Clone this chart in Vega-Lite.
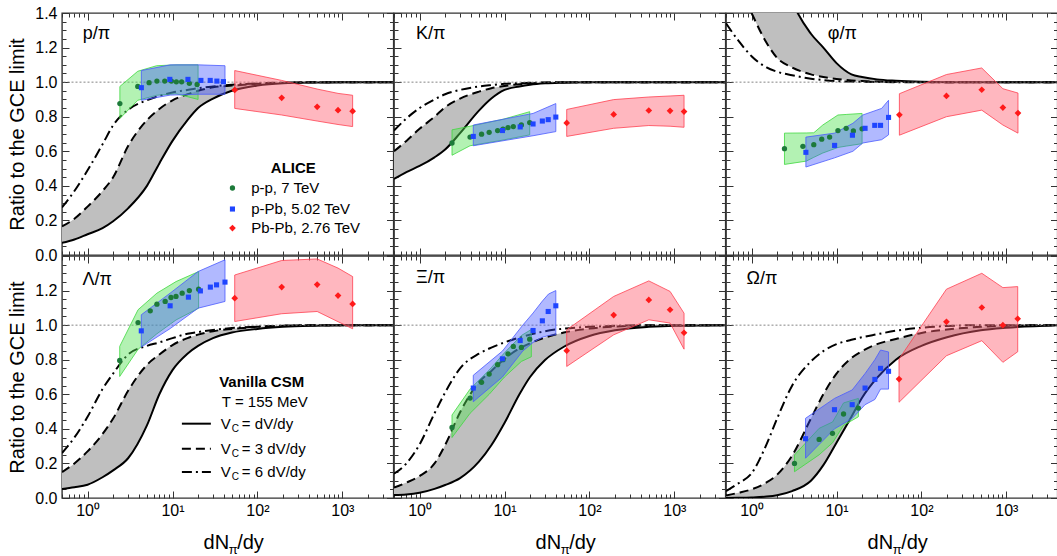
{
"$schema":"https://vega.github.io/schema/vega-lite/v6.json",
"background":"white",
"padding":{"left":7,"top":4,"right":0,"bottom":0},
"autosize":{"type":"pad"},
"config":{"view":{"stroke":"#333","strokeWidth":1.4},
"axis":{"domain":false,"grid":false,"tickColor":"#333","tickWidth":1,"labelFont":"Liberation Sans","labelFontSize":16,"labelColor":"black","titleFont":"Liberation Sans","titleFontSize":20,"titleFontWeight":"normal","titleColor":"black"},
"text":{"font":"Liberation Sans","color":"black"}},
"data":{"name":"all"},
"datasets":{"all":[
{"p":"p","k":"c","x":0.5,"s":0.07,"ds":0.165,"dd":0.275},{"p":"p","k":"c","x":0.7,"s":0.09,"ds":0.21,"dd":0.37},{"p":"p","k":"c","x":1,"s":0.12,"ds":0.28,"dd":0.49},{"p":"p","k":"c","x":1.5,"s":0.155,"ds":0.37,"dd":0.64},{"p":"p","k":"c","x":2,"s":0.195,"ds":0.45,"dd":0.75},{"p":"p","k":"c","x":3,"s":0.27,"ds":0.63,"dd":0.84},{"p":"p","k":"c","x":5,"s":0.4,"ds":0.78,"dd":0.895},{"p":"p","k":"c","x":7,"s":0.53,"ds":0.845,"dd":0.92},{"p":"p","k":"c","x":10,"s":0.66,"ds":0.895,"dd":0.94},{"p":"p","k":"c","x":15,"s":0.78,"ds":0.93,"dd":0.955},{"p":"p","k":"c","x":20,"s":0.85,"ds":0.95,"dd":0.965},{"p":"p","k":"c","x":30,"s":0.905,"ds":0.97,"dd":0.975},{"p":"p","k":"c","x":50,"s":0.95,"ds":0.98,"dd":0.985},{"p":"p","k":"c","x":100,"s":0.98,"ds":0.99,"dd":0.993},{"p":"p","k":"c","x":200,"s":0.993,"ds":0.996,"dd":0.997},{"p":"p","k":"c","x":500,"s":0.998,"ds":1,"dd":1},{"p":"p","k":"c","x":1000,"s":1,"ds":1,"dd":1},{"p":"p","k":"c","x":4000,"s":1,"ds":1,"dd":1},
{"p":"K","k":"c","x":0.5,"s":0.44,"ds":0.6,"dd":0.72},{"p":"K","k":"c","x":0.7,"s":0.48,"ds":0.66,"dd":0.79},{"p":"K","k":"c","x":1,"s":0.515,"ds":0.73,"dd":0.85},{"p":"K","k":"c","x":1.5,"s":0.565,"ds":0.8,"dd":0.9},{"p":"K","k":"c","x":2,"s":0.61,"ds":0.855,"dd":0.93},{"p":"K","k":"c","x":3,"s":0.705,"ds":0.905,"dd":0.955},{"p":"K","k":"c","x":5,"s":0.835,"ds":0.945,"dd":0.975},{"p":"K","k":"c","x":7,"s":0.905,"ds":0.965,"dd":0.983},{"p":"K","k":"c","x":10,"s":0.955,"ds":0.978,"dd":0.99},{"p":"K","k":"c","x":15,"s":0.975,"ds":0.988,"dd":0.994},{"p":"K","k":"c","x":20,"s":0.985,"ds":0.993,"dd":0.996},{"p":"K","k":"c","x":30,"s":0.993,"ds":0.997,"dd":0.998},{"p":"K","k":"c","x":50,"s":0.997,"ds":1,"dd":1},{"p":"K","k":"c","x":100,"s":1,"ds":1,"dd":1},{"p":"K","k":"c","x":1000,"s":1,"ds":1,"dd":1},{"p":"K","k":"c","x":4000,"s":1,"ds":1,"dd":1},
{"p":"phi","k":"c","x":0.5,"s":null,"ds":null,"dd":1.34},{"p":"phi","k":"c","x":0.7,"s":null,"ds":null,"dd":1.24},{"p":"phi","k":"c","x":1,"s":2.5,"ds":1.4,"dd":1.15},{"p":"phi","k":"c","x":1.5,"s":2.0,"ds":1.228,"dd":1.085},{"p":"phi","k":"c","x":2,"s":1.75,"ds":1.14,"dd":1.06},{"p":"phi","k":"c","x":3,"s":1.47,"ds":1.085,"dd":1.04},{"p":"phi","k":"c","x":5,"s":1.28,"ds":1.045,"dd":1.02},{"p":"phi","k":"c","x":7,"s":1.2,"ds":1.03,"dd":1.012},{"p":"phi","k":"c","x":10,"s":1.11,"ds":1.018,"dd":1.006},{"p":"phi","k":"c","x":15,"s":1.045,"ds":1.01,"dd":1.003},{"p":"phi","k":"c","x":20,"s":1.03,"ds":1.006,"dd":1.002},{"p":"phi","k":"c","x":30,"s":1.016,"ds":1.003,"dd":1.001},{"p":"phi","k":"c","x":50,"s":1.008,"ds":1.001,"dd":1},{"p":"phi","k":"c","x":100,"s":1.002,"ds":1,"dd":1},{"p":"phi","k":"c","x":200,"s":1,"ds":1,"dd":1},{"p":"phi","k":"c","x":4000,"s":1,"ds":1,"dd":1},
{"p":"L","k":"c","x":0.5,"s":0.052,"ds":0.15,"dd":0.26},{"p":"L","k":"c","x":0.7,"s":0.062,"ds":0.2,"dd":0.35},{"p":"L","k":"c","x":1,"s":0.077,"ds":0.27,"dd":0.47},{"p":"L","k":"c","x":1.5,"s":0.12,"ds":0.37,"dd":0.63},{"p":"L","k":"c","x":2,"s":0.16,"ds":0.46,"dd":0.72},{"p":"L","k":"c","x":3,"s":0.23,"ds":0.62,"dd":0.83},{"p":"L","k":"c","x":5,"s":0.42,"ds":0.77,"dd":0.88},{"p":"L","k":"c","x":7,"s":0.6,"ds":0.83,"dd":0.9},{"p":"L","k":"c","x":10,"s":0.74,"ds":0.885,"dd":0.925},{"p":"L","k":"c","x":15,"s":0.835,"ds":0.925,"dd":0.95},{"p":"L","k":"c","x":20,"s":0.88,"ds":0.945,"dd":0.96},{"p":"L","k":"c","x":30,"s":0.925,"ds":0.965,"dd":0.972},{"p":"L","k":"c","x":50,"s":0.957,"ds":0.978,"dd":0.983},{"p":"L","k":"c","x":100,"s":0.978,"ds":0.99,"dd":0.992},{"p":"L","k":"c","x":200,"s":0.99,"ds":0.996,"dd":0.997},{"p":"L","k":"c","x":500,"s":0.997,"ds":1,"dd":1},{"p":"L","k":"c","x":1000,"s":1,"ds":1,"dd":1},{"p":"L","k":"c","x":4000,"s":1,"ds":1,"dd":1},
{"p":"Xi","k":"c","x":0.5,"s":0.017,"ds":0.06,"dd":0.14},{"p":"Xi","k":"c","x":0.7,"s":0.02,"ds":0.089,"dd":0.2},{"p":"Xi","k":"c","x":1,"s":0.03,"ds":0.127,"dd":0.31},{"p":"Xi","k":"c","x":1.5,"s":0.053,"ds":0.2,"dd":0.49},{"p":"Xi","k":"c","x":2,"s":0.075,"ds":0.307,"dd":0.61},{"p":"Xi","k":"c","x":3,"s":0.115,"ds":0.496,"dd":0.75},{"p":"Xi","k":"c","x":5,"s":0.21,"ds":0.67,"dd":0.835},{"p":"Xi","k":"c","x":7,"s":0.305,"ds":0.735,"dd":0.87},{"p":"Xi","k":"c","x":10,"s":0.434,"ds":0.805,"dd":0.9},{"p":"Xi","k":"c","x":15,"s":0.6,"ds":0.865,"dd":0.928},{"p":"Xi","k":"c","x":20,"s":0.7,"ds":0.895,"dd":0.945},{"p":"Xi","k":"c","x":30,"s":0.798,"ds":0.928,"dd":0.965},{"p":"Xi","k":"c","x":50,"s":0.875,"ds":0.957,"dd":0.98},{"p":"Xi","k":"c","x":100,"s":0.937,"ds":0.98,"dd":0.99},{"p":"Xi","k":"c","x":200,"s":0.97,"ds":0.992,"dd":0.996},{"p":"Xi","k":"c","x":500,"s":0.99,"ds":0.998,"dd":1},{"p":"Xi","k":"c","x":1000,"s":0.997,"ds":1,"dd":1},{"p":"Xi","k":"c","x":4000,"s":1,"ds":1,"dd":1},
{"p":"Om","k":"c","x":0.5,"s":0,"ds":0.015,"dd":0.04},{"p":"Om","k":"c","x":0.7,"s":0.001,"ds":0.03,"dd":0.085},{"p":"Om","k":"c","x":1,"s":0.003,"ds":0.05,"dd":0.143},{"p":"Om","k":"c","x":1.5,"s":0.008,"ds":0.09,"dd":0.31},{"p":"Om","k":"c","x":2,"s":0.016,"ds":0.135,"dd":0.46},{"p":"Om","k":"c","x":3,"s":0.04,"ds":0.245,"dd":0.65},{"p":"Om","k":"c","x":5,"s":0.1,"ds":0.46,"dd":0.79},{"p":"Om","k":"c","x":7,"s":0.19,"ds":0.6,"dd":0.85},{"p":"Om","k":"c","x":10,"s":0.32,"ds":0.72,"dd":0.89},{"p":"Om","k":"c","x":15,"s":0.47,"ds":0.81,"dd":0.915},{"p":"Om","k":"c","x":20,"s":0.58,"ds":0.85,"dd":0.93},{"p":"Om","k":"c","x":30,"s":0.695,"ds":0.89,"dd":0.947},{"p":"Om","k":"c","x":50,"s":0.8,"ds":0.92,"dd":0.968},{"p":"Om","k":"c","x":100,"s":0.88,"ds":0.955,"dd":0.985},{"p":"Om","k":"c","x":200,"s":0.93,"ds":0.975,"dd":0.995},{"p":"Om","k":"c","x":500,"s":0.97,"ds":0.99,"dd":1},{"p":"Om","k":"c","x":1000,"s":0.985,"ds":0.997,"dd":1},{"p":"Om","k":"c","x":4000,"s":1,"ds":1,"dd":1},
{"p":"p","k":"pp","x":2.4,"v":0.876},{"p":"p","k":"pp","x":3.9,"v":0.975},{"p":"p","k":"pp","x":5.3,"v":0.997},{"p":"p","k":"pp","x":6.55,"v":1.006},{"p":"p","k":"pp","x":8.1,"v":1.006},{"p":"p","k":"pp","x":9.7,"v":1.006},{"p":"p","k":"pp","x":11.1,"v":1.002},{"p":"p","k":"pp","x":12.8,"v":1.002},{"p":"p","k":"pp","x":15.8,"v":0.993},{"p":"p","k":"pp","x":19.5,"v":0.987},
{"p":"p","k":"pPb","x":4.3,"v":0.968},{"p":"p","k":"pPb","x":9.3,"v":1.016},{"p":"p","k":"pPb","x":15.2,"v":1.016},{"p":"p","k":"pPb","x":21.6,"v":1.01},{"p":"p","k":"pPb","x":27.8,"v":1.01},{"p":"p","k":"pPb","x":33.3,"v":1.006},{"p":"p","k":"pPb","x":39.8,"v":1.003},
{"p":"p","k":"PbPb","x":54,"v":0.955},{"p":"p","k":"PbPb","x":193,"v":0.909},{"p":"p","k":"PbPb","x":505,"v":0.857},{"p":"p","k":"PbPb","x":889,"v":0.838},{"p":"p","k":"PbPb","x":1321,"v":0.832},
{"p":"K","k":"pp","x":2.41,"v":0.648},{"p":"K","k":"pp","x":3.93,"v":0.682},{"p":"K","k":"pp","x":5.37,"v":0.699},{"p":"K","k":"pp","x":6.6,"v":0.71},{"p":"K","k":"pp","x":8.3,"v":0.72},{"p":"K","k":"pp","x":9.6,"v":0.728},{"p":"K","k":"pp","x":11,"v":0.737},{"p":"K","k":"pp","x":12.7,"v":0.743},{"p":"K","k":"pp","x":15.8,"v":0.752},{"p":"K","k":"pp","x":19.8,"v":0.766},
{"p":"K","k":"pPb","x":4.29,"v":0.686},{"p":"K","k":"pPb","x":9.45,"v":0.72},{"p":"K","k":"pPb","x":15.3,"v":0.741},{"p":"K","k":"pPb","x":21.7,"v":0.758},{"p":"K","k":"pPb","x":27.9,"v":0.775},{"p":"K","k":"pPb","x":32.7,"v":0.783},{"p":"K","k":"pPb","x":40.2,"v":0.798},
{"p":"K","k":"PbPb","x":54,"v":0.764},{"p":"K","k":"PbPb","x":193,"v":0.813},{"p":"K","k":"PbPb","x":500,"v":0.836},{"p":"K","k":"PbPb","x":890,"v":0.834},{"p":"K","k":"PbPb","x":1300,"v":0.83},
{"p":"phi","k":"pp","x":2.44,"v":0.615},{"p":"phi","k":"pp","x":4.02,"v":0.629},{"p":"phi","k":"pp","x":5.4,"v":0.638},{"p":"phi","k":"pp","x":6.7,"v":0.67},{"p":"phi","k":"pp","x":8.3,"v":0.682},{"p":"phi","k":"pp","x":10.4,"v":0.72},{"p":"phi","k":"pp","x":13,"v":0.733},{"p":"phi","k":"pp","x":15.8,"v":0.718},{"p":"phi","k":"pp","x":20,"v":0.73},
{"p":"phi","k":"pPb","x":4.36,"v":0.594},{"p":"phi","k":"pPb","x":9.5,"v":0.634},{"p":"phi","k":"pPb","x":15.4,"v":0.693},{"p":"phi","k":"pPb","x":21.7,"v":0.733},{"p":"phi","k":"pPb","x":28.2,"v":0.75},{"p":"phi","k":"pPb","x":33,"v":0.75},{"p":"phi","k":"pPb","x":41,"v":0.796},
{"p":"phi","k":"PbPb","x":55,"v":0.811},{"p":"phi","k":"PbPb","x":197,"v":0.92},{"p":"phi","k":"PbPb","x":513,"v":0.956},{"p":"phi","k":"PbPb","x":910,"v":0.853},{"p":"phi","k":"PbPb","x":1370,"v":0.821},
{"p":"L","k":"pp","x":2.39,"v":0.796},{"p":"L","k":"pp","x":3.93,"v":1.015},{"p":"L","k":"pp","x":5.47,"v":1.083},{"p":"L","k":"pp","x":6.55,"v":1.121},{"p":"L","k":"pp","x":8.2,"v":1.137},{"p":"L","k":"pp","x":9.6,"v":1.16},{"p":"L","k":"pp","x":11,"v":1.166},{"p":"L","k":"pp","x":13,"v":1.185},{"p":"L","k":"pp","x":15.8,"v":1.2},{"p":"L","k":"pp","x":20.3,"v":1.208},
{"p":"L","k":"pPb","x":4.29,"v":0.967},{"p":"L","k":"pPb","x":9.38,"v":1.112},{"p":"L","k":"pPb","x":15.4,"v":1.162},{"p":"L","k":"pPb","x":21.3,"v":1.198},{"p":"L","k":"pPb","x":27.9,"v":1.22},{"p":"L","k":"pPb","x":33,"v":1.233},{"p":"L","k":"pPb","x":41.5,"v":1.249},
{"p":"L","k":"PbPb","x":54,"v":1.156},{"p":"L","k":"PbPb","x":193,"v":1.22},{"p":"L","k":"PbPb","x":505,"v":1.235},{"p":"L","k":"PbPb","x":889,"v":1.171},{"p":"L","k":"PbPb","x":1321,"v":1.123},
{"p":"Xi","k":"pp","x":2.41,"v":0.408},{"p":"Xi","k":"pp","x":3.93,"v":0.578},{"p":"Xi","k":"pp","x":5.37,"v":0.669},{"p":"Xi","k":"pp","x":6.6,"v":0.717},{"p":"Xi","k":"pp","x":8.3,"v":0.771},{"p":"Xi","k":"pp","x":9.6,"v":0.8},{"p":"Xi","k":"pp","x":11,"v":0.834},{"p":"Xi","k":"pp","x":12.7,"v":0.877},{"p":"Xi","k":"pp","x":15.8,"v":0.871},{"p":"Xi","k":"pp","x":19.8,"v":0.919},
{"p":"Xi","k":"pPb","x":4.29,"v":0.636},{"p":"Xi","k":"pPb","x":9.45,"v":0.805},{"p":"Xi","k":"pPb","x":15.3,"v":0.911},{"p":"Xi","k":"pPb","x":21.7,"v":0.969},{"p":"Xi","k":"pPb","x":27.9,"v":1.025},{"p":"Xi","k":"pPb","x":32.7,"v":1.079},{"p":"Xi","k":"pPb","x":40.2,"v":1.112},
{"p":"Xi","k":"PbPb","x":54,"v":0.852},{"p":"Xi","k":"PbPb","x":193,"v":1.058},{"p":"Xi","k":"PbPb","x":500,"v":1.146},{"p":"Xi","k":"PbPb","x":890,"v":1.089},{"p":"Xi","k":"PbPb","x":1300,"v":0.956},
{"p":"Om","k":"pp","x":3.2,"v":0.2},{"p":"Om","k":"pp","x":6.25,"v":0.339},{"p":"Om","k":"pp","x":8.97,"v":0.374},{"p":"Om","k":"pp","x":12.1,"v":0.486},{"p":"Om","k":"pp","x":18.1,"v":0.52},
{"p":"Om","k":"pPb","x":4.32,"v":0.343},{"p":"Om","k":"pPb","x":9.47,"v":0.511},{"p":"Om","k":"pPb","x":15.3,"v":0.54},{"p":"Om","k":"pPb","x":21.7,"v":0.636},{"p":"Om","k":"pPb","x":28.3,"v":0.686},{"p":"Om","k":"pPb","x":33,"v":0.75},{"p":"Om","k":"pPb","x":41,"v":0.733},
{"p":"Om","k":"PbPb","x":54.5,"v":0.688},{"p":"Om","k":"PbPb","x":197,"v":1.019},{"p":"Om","k":"PbPb","x":514,"v":1.102},{"p":"Om","k":"PbPb","x":910,"v":1.0},{"p":"Om","k":"PbPb","x":1360,"v":1.037},
{"p":"p","k":"bpp","x":2.4,"lo":0.79,"hi":0.975},{"p":"p","k":"bpp","x":3.9,"lo":0.895,"hi":1.063},{"p":"p","k":"bpp","x":6.5,"lo":0.924,"hi":1.095},{"p":"p","k":"bpp","x":11,"lo":0.933,"hi":1.1},{"p":"p","k":"bpp","x":20,"lo":0.9,"hi":1.1},
{"p":"p","k":"bpPb","x":4.3,"lo":0.895,"hi":1.067},{"p":"p","k":"bpPb","x":9.4,"lo":0.925,"hi":1.1},{"p":"p","k":"bpPb","x":20,"lo":0.93,"hi":1.1},{"p":"p","k":"bpPb","x":41.5,"lo":0.93,"hi":1.095},
{"p":"p","k":"bPbPb","x":54,"lo":0.848,"hi":1.067},{"p":"p","k":"bPbPb","x":193,"lo":0.81,"hi":1.01},{"p":"p","k":"bPbPb","x":505,"lo":0.775,"hi":0.96},{"p":"p","k":"bPbPb","x":889,"lo":0.755,"hi":0.935},{"p":"p","k":"bPbPb","x":1321,"lo":0.743,"hi":0.924},
{"p":"K","k":"bpp","x":2.41,"lo":0.577,"hi":0.724},{"p":"K","k":"bpp","x":3.93,"lo":0.632,"hi":0.745},{"p":"K","k":"bpp","x":9.6,"lo":0.665,"hi":0.785},{"p":"K","k":"bpp","x":19.8,"lo":0.695,"hi":0.829},
{"p":"K","k":"bpPb","x":4.29,"lo":0.632,"hi":0.752},{"p":"K","k":"bpPb","x":21.7,"lo":0.69,"hi":0.819},{"p":"K","k":"bpPb","x":40.2,"lo":0.714,"hi":0.876},
{"p":"K","k":"bPbPb","x":54,"lo":0.686,"hi":0.842},{"p":"K","k":"bPbPb","x":193,"lo":0.733,"hi":0.899},{"p":"K","k":"bPbPb","x":500,"lo":0.749,"hi":0.914},{"p":"K","k":"bPbPb","x":890,"lo":0.745,"hi":0.92},{"p":"K","k":"bPbPb","x":1300,"lo":0.739,"hi":0.924},
{"p":"phi","k":"bpp","x":2.44,"lo":0.524,"hi":0.705},{"p":"phi","k":"bpp","x":4.4,"lo":0.543,"hi":0.706},{"p":"phi","k":"bpp","x":5.4,"lo":0.565,"hi":0.707},{"p":"phi","k":"bpp","x":6.9,"lo":0.59,"hi":0.752},{"p":"phi","k":"bpp","x":10.4,"lo":0.622,"hi":0.81},{"p":"phi","k":"bpp","x":13,"lo":0.63,"hi":0.813},{"p":"phi","k":"bpp","x":20,"lo":0.644,"hi":0.819},
{"p":"phi","k":"bpPb","x":4.36,"lo":0.509,"hi":0.682},{"p":"phi","k":"bpPb","x":9.5,"lo":0.562,"hi":0.705},{"p":"phi","k":"bpPb","x":15.6,"lo":0.6,"hi":0.762},{"p":"phi","k":"bpPb","x":20.4,"lo":0.648,"hi":0.81},{"p":"phi","k":"bpPb","x":34,"lo":0.667,"hi":0.848},{"p":"phi","k":"bpPb","x":41,"lo":0.695,"hi":0.895},
{"p":"phi","k":"bPbPb","x":55,"lo":0.693,"hi":0.933},{"p":"phi","k":"bPbPb","x":197,"lo":0.8,"hi":1.044},{"p":"phi","k":"bPbPb","x":513,"lo":0.838,"hi":1.082},{"p":"phi","k":"bPbPb","x":910,"lo":0.752,"hi":0.962},{"p":"phi","k":"bPbPb","x":1370,"lo":0.705,"hi":0.937},
{"p":"L","k":"bpp","x":2.39,"lo":0.703,"hi":0.877},{"p":"L","k":"bpp","x":3.93,"lo":0.86,"hi":1.089},{"p":"L","k":"bpp","x":6.55,"lo":0.95,"hi":1.185},{"p":"L","k":"bpp","x":11,"lo":1.03,"hi":1.252},{"p":"L","k":"bpp","x":20.3,"lo":1.098,"hi":1.31},
{"p":"L","k":"bpPb","x":4.29,"lo":0.873,"hi":1.06},{"p":"L","k":"bpPb","x":9.38,"lo":0.98,"hi":1.185},{"p":"L","k":"bpPb","x":20,"lo":1.098,"hi":1.31},{"p":"L","k":"bpPb","x":41.5,"lo":1.137,"hi":1.378},
{"p":"L","k":"bPbPb","x":54,"lo":1.021,"hi":1.29},{"p":"L","k":"bPbPb","x":193,"lo":1.066,"hi":1.374},{"p":"L","k":"bPbPb","x":505,"lo":1.079,"hi":1.383},{"p":"L","k":"bPbPb","x":889,"lo":1.02,"hi":1.33},{"p":"L","k":"bPbPb","x":1321,"lo":0.979,"hi":1.281},
{"p":"Xi","k":"bpp","x":2.41,"lo":0.35,"hi":0.48},{"p":"Xi","k":"bpp","x":3.93,"lo":0.49,"hi":0.63},{"p":"Xi","k":"bpp","x":6.6,"lo":0.6,"hi":0.74},{"p":"Xi","k":"bpp","x":10,"lo":0.7,"hi":0.84},{"p":"Xi","k":"bpp","x":15.8,"lo":0.79,"hi":0.94},{"p":"Xi","k":"bpp","x":20.7,"lo":0.817,"hi":0.975},
{"p":"Xi","k":"bpPb","x":4.29,"lo":0.557,"hi":0.71},{"p":"Xi","k":"bpPb","x":9.45,"lo":0.7,"hi":0.85},{"p":"Xi","k":"bpPb","x":16.4,"lo":0.85,"hi":1.0},{"p":"Xi","k":"bpPb","x":21.7,"lo":0.9,"hi":1.07},{"p":"Xi","k":"bpPb","x":28,"lo":0.93,"hi":1.14},{"p":"Xi","k":"bpPb","x":33,"lo":0.94,"hi":1.18},{"p":"Xi","k":"bpPb","x":40.2,"lo":0.944,"hi":1.2},
{"p":"Xi","k":"bPbPb","x":54,"lo":0.761,"hi":0.973},{"p":"Xi","k":"bPbPb","x":193,"lo":0.944,"hi":1.166},{"p":"Xi","k":"bPbPb","x":500,"lo":1.031,"hi":1.256},{"p":"Xi","k":"bPbPb","x":890,"lo":1.012,"hi":1.195},{"p":"Xi","k":"bPbPb","x":1300,"lo":0.861,"hi":1.069},
{"p":"Om","k":"bpp","x":3.2,"lo":0.152,"hi":0.249},{"p":"Om","k":"bpp","x":6.25,"lo":0.25,"hi":0.403},{"p":"Om","k":"bpp","x":9,"lo":0.32,"hi":0.44},{"p":"Om","k":"bpp","x":12.1,"lo":0.42,"hi":0.55},{"p":"Om","k":"bpp","x":18.1,"lo":0.47,"hi":0.576},
{"p":"Om","k":"bpPb","x":4.32,"lo":0.23,"hi":0.461},{"p":"Om","k":"bpPb","x":9.47,"lo":0.4,"hi":0.576},{"p":"Om","k":"bpPb","x":15.3,"lo":0.46,"hi":0.625},{"p":"Om","k":"bpPb","x":21.7,"lo":0.54,"hi":0.72},{"p":"Om","k":"bpPb","x":28.3,"lo":0.57,"hi":0.8},{"p":"Om","k":"bpPb","x":33,"lo":0.63,"hi":0.856},{"p":"Om","k":"bpPb","x":41,"lo":0.63,"hi":0.845},
{"p":"Om","k":"bPbPb","x":54.5,"lo":0.554,"hi":0.804},{"p":"Om","k":"bPbPb","x":197,"lo":0.823,"hi":1.208},{"p":"Om","k":"bPbPb","x":514,"lo":0.91,"hi":1.3},{"p":"Om","k":"bPbPb","x":910,"lo":0.785,"hi":1.217},{"p":"Om","k":"bPbPb","x":1360,"lo":0.846,"hi":1.223}
]},
"columns":3,
"spacing":{"row":1,"column":0},
"bounds":"flush",
"concat":[
{"width":331.5,"height":242,"resolve":{"axis":{"x":"independent","y":"independent"}},"layer":[
{"transform":[{"filter":"datum.p=='p'&&datum.k=='c'"}],"mark":{"type":"area","color":"#bfbfbf","interpolate":"monotone","clip":true},"encoding":{"x":{"field":"x","type":"quantitative","scale":{"type":"log","domain":[0.5,4000],"nice":false},"axis":{"orient":"bottom","values":[0.5,0.6,0.7,0.8,0.9,1,2,3,4,5,6,7,8,9,10,20,30,40,50,60,70,80,90,100,200,300,400,500,600,700,800,900,1000,2000,3000,4000],"labels":false,"title":null,"tickSize":{"condition":{"test":"datum.value==1||datum.value==10||datum.value==100||datum.value==1000","value":-7},"value":-4}}},"y":{"field":"s","type":"quantitative","scale":{"domain":[0,1.4],"nice":false,"zero":false},"axis":{"orient":"left","values":[0,0.05,0.1,0.15,0.2,0.25,0.3,0.35,0.4,0.45,0.5,0.55,0.6,0.65,0.7,0.75,0.8,0.85,0.9,0.95,1,1.05,1.1,1.15,1.2,1.25,1.3,1.35,1.4],"title":"Ratio to the GCE limit","titlePadding":7,"labelPadding":12,"labelOverlap":false,"labelFlush":false,"labelExpr":"abs(datum.value*5-round(datum.value*5))<0.001?format(datum.value,'.1f'):''","tickSize":{"condition":{"test":"abs(datum.value*5-round(datum.value*5))<0.001","value":-7},"value":-4}}},"y2":{"field":"ds"}}},
{"transform":[{"filter":"datum.p=='p'&&datum.k=='c'"}],"mark":{"type":"line","color":"black","strokeWidth":2,"interpolate":"monotone","clip":true},"encoding":{"x":{"field":"x","type":"quantitative","scale":{"type":"log","domain":[0.5,4000],"nice":false},"axis":{"orient":"top","values":[0.5,0.6,0.7,0.8,0.9,1,2,3,4,5,6,7,8,9,10,20,30,40,50,60,70,80,90,100,200,300,400,500,600,700,800,900,1000,2000,3000,4000],"labels":false,"title":null,"tickSize":{"condition":{"test":"datum.value==1||datum.value==10||datum.value==100||datum.value==1000","value":-7},"value":-4}}},"y":{"field":"s","type":"quantitative","scale":{"domain":[0,1.4],"nice":false,"zero":false},"axis":{"orient":"right","values":[0,0.05,0.1,0.15,0.2,0.25,0.3,0.35,0.4,0.45,0.5,0.55,0.6,0.65,0.7,0.75,0.8,0.85,0.9,0.95,1,1.05,1.1,1.15,1.2,1.25,1.3,1.35,1.4],"labels":false,"title":null,"tickSize":{"condition":{"test":"abs(datum.value*5-round(datum.value*5))<0.001","value":-7},"value":-4}}}}},
{"transform":[{"filter":"datum.p=='p'&&datum.k=='c'"}],"mark":{"type":"line","color":"black","strokeWidth":2,"strokeDash":[9,5],"interpolate":"monotone","clip":true},"encoding":{"x":{"field":"x","type":"quantitative","scale":{"type":"log","domain":[0.5,4000],"nice":false},"axis":null},"y":{"field":"ds","type":"quantitative","scale":{"domain":[0,1.4],"nice":false,"zero":false},"axis":null}}},
{"transform":[{"filter":"datum.p=='p'&&datum.k=='c'"}],"mark":{"type":"line","color":"black","strokeWidth":2,"strokeDash":[10,4,2,4],"interpolate":"monotone","clip":true},"encoding":{"x":{"field":"x","type":"quantitative","scale":{"type":"log","domain":[0.5,4000],"nice":false},"axis":null},"y":{"field":"dd","type":"quantitative","scale":{"domain":[0,1.4],"nice":false,"zero":false},"axis":null}}},
{"data":{"values":[{}]},"mark":{"type":"rule","color":"#777","strokeWidth":0.9,"strokeDash":[2,2]},"encoding":{"y":{"datum":1,"type":"quantitative","scale":{"domain":[0,1.4],"nice":false,"zero":false},"axis":null}}},
{"transform":[{"filter":"datum.p=='p'&&datum.k=='bpp'"}],"mark":{"type":"area","color":"#57e357","fillOpacity":0.45,"stroke":"#3fd83f","strokeWidth":0.8,"clip":true},"encoding":{"x":{"field":"x","type":"quantitative","scale":{"type":"log","domain":[0.5,4000],"nice":false},"axis":null},"y":{"field":"lo","type":"quantitative","scale":{"domain":[0,1.4],"nice":false,"zero":false},"axis":null},"y2":{"field":"hi"}}},
{"transform":[{"filter":"datum.p=='p'&&datum.k=='bpPb'"}],"mark":{"type":"area","color":"#3c50ff","fillOpacity":0.4,"stroke":"#4a5aff","strokeWidth":0.8,"clip":true},"encoding":{"x":{"field":"x","type":"quantitative","scale":{"type":"log","domain":[0.5,4000],"nice":false},"axis":null},"y":{"field":"lo","type":"quantitative","scale":{"domain":[0,1.4],"nice":false,"zero":false},"axis":null},"y2":{"field":"hi"}}},
{"transform":[{"filter":"datum.p=='p'&&datum.k=='bPbPb'"}],"mark":{"type":"area","color":"#ff6070","fillOpacity":0.45,"stroke":"#ff4050","strokeWidth":0.8,"clip":true},"encoding":{"x":{"field":"x","type":"quantitative","scale":{"type":"log","domain":[0.5,4000],"nice":false},"axis":null},"y":{"field":"lo","type":"quantitative","scale":{"domain":[0,1.4],"nice":false,"zero":false},"axis":null},"y2":{"field":"hi"}}},
{"transform":[{"filter":"datum.p=='p'&&datum.k=='pp'"}],"mark":{"type":"point","shape":"circle","filled":true,"color":"#1d7a3a","size":28,"opacity":1},"encoding":{"x":{"field":"x","type":"quantitative","scale":{"type":"log","domain":[0.5,4000],"nice":false},"axis":null},"y":{"field":"v","type":"quantitative","scale":{"domain":[0,1.4],"nice":false,"zero":false},"axis":null}}},
{"transform":[{"filter":"datum.p=='p'&&datum.k=='pPb'"}],"mark":{"type":"point","shape":"square","filled":true,"color":"#1f45ff","size":26,"opacity":1},"encoding":{"x":{"field":"x","type":"quantitative","scale":{"type":"log","domain":[0.5,4000],"nice":false},"axis":null},"y":{"field":"v","type":"quantitative","scale":{"domain":[0,1.4],"nice":false,"zero":false},"axis":null}}},
{"transform":[{"filter":"datum.p=='p'&&datum.k=='PbPb'"}],"mark":{"type":"point","shape":"diamond","filled":true,"color":"#ff1a1a","size":45,"opacity":1},"encoding":{"x":{"field":"x","type":"quantitative","scale":{"type":"log","domain":[0.5,4000],"nice":false},"axis":null},"y":{"field":"v","type":"quantitative","scale":{"domain":[0,1.4],"nice":false,"zero":false},"axis":null}}},
{"data":{"values":[{}]},"mark":{"type":"text","text":"p/π","align":"left","baseline":"middle","fontSize":18},"encoding":{"x":{"datum":0.88,"type":"quantitative","scale":{"type":"log","domain":[0.5,4000],"nice":false},"axis":null},"y":{"datum":1.278,"type":"quantitative","scale":{"domain":[0,1.4],"nice":false,"zero":false},"axis":null}}},
{"data":{"values":[{}]},"mark":{"type":"text","text":"ALICE","align":"left","baseline":"middle","fontSize":15,"fontWeight":"bold"},"encoding":{"x":{"datum":143.8,"type":"quantitative","scale":{"type":"log","domain":[0.5,4000],"nice":false},"axis":null},"y":{"datum":0.503,"type":"quantitative","scale":{"domain":[0,1.4],"nice":false,"zero":false},"axis":null}}},
{"data":{"values":[{}]},"mark":{"type":"point","shape":"circle","filled":true,"color":"#1d7a3a","size":28,"opacity":1},"encoding":{"x":{"datum":50.8,"type":"quantitative","scale":{"type":"log","domain":[0.5,4000],"nice":false},"axis":null},"y":{"datum":0.3875,"type":"quantitative","scale":{"domain":[0,1.4],"nice":false,"zero":false},"axis":null}}},
{"data":{"values":[{}]},"mark":{"type":"point","shape":"square","filled":true,"color":"#1f45ff","size":26,"opacity":1},"encoding":{"x":{"datum":50.8,"type":"quantitative","scale":{"type":"log","domain":[0.5,4000],"nice":false},"axis":null},"y":{"datum":0.266,"type":"quantitative","scale":{"domain":[0,1.4],"nice":false,"zero":false},"axis":null}}},
{"data":{"values":[{}]},"mark":{"type":"point","shape":"diamond","filled":true,"color":"#ff1a1a","size":45,"opacity":1},"encoding":{"x":{"datum":50.8,"type":"quantitative","scale":{"type":"log","domain":[0.5,4000],"nice":false},"axis":null},"y":{"datum":0.156,"type":"quantitative","scale":{"domain":[0,1.4],"nice":false,"zero":false},"axis":null}}},
{"data":{"values":[{}]},"mark":{"type":"text","text":"p-p, 7 TeV","align":"left","baseline":"middle","fontSize":15},"encoding":{"x":{"datum":84.3,"type":"quantitative","scale":{"type":"log","domain":[0.5,4000],"nice":false},"axis":null},"y":{"datum":0.3875,"type":"quantitative","scale":{"domain":[0,1.4],"nice":false,"zero":false},"axis":null}}},
{"data":{"values":[{}]},"mark":{"type":"text","text":"p-Pb, 5.02 TeV","align":"left","baseline":"middle","fontSize":15},"encoding":{"x":{"datum":84.3,"type":"quantitative","scale":{"type":"log","domain":[0.5,4000],"nice":false},"axis":null},"y":{"datum":0.266,"type":"quantitative","scale":{"domain":[0,1.4],"nice":false,"zero":false},"axis":null}}},
{"data":{"values":[{}]},"mark":{"type":"text","text":"Pb-Pb, 2.76 TeV","align":"left","baseline":"middle","fontSize":15},"encoding":{"x":{"datum":84.3,"type":"quantitative","scale":{"type":"log","domain":[0.5,4000],"nice":false},"axis":null},"y":{"datum":0.156,"type":"quantitative","scale":{"domain":[0,1.4],"nice":false,"zero":false},"axis":null}}}
]},
{"width":331.5,"height":242,"resolve":{"axis":{"x":"independent","y":"independent"}},"layer":[
{"transform":[{"filter":"datum.p=='K'&&datum.k=='c'"}],"mark":{"type":"area","color":"#bfbfbf","interpolate":"monotone","clip":true},"encoding":{"x":{"field":"x","type":"quantitative","scale":{"type":"log","domain":[0.5,4000],"nice":false},"axis":{"orient":"bottom","values":[0.5,0.6,0.7,0.8,0.9,1,2,3,4,5,6,7,8,9,10,20,30,40,50,60,70,80,90,100,200,300,400,500,600,700,800,900,1000,2000,3000,4000],"labels":false,"title":null,"tickSize":{"condition":{"test":"datum.value==1||datum.value==10||datum.value==100||datum.value==1000","value":-7},"value":-4}}},"y":{"field":"s","type":"quantitative","scale":{"domain":[0,1.4],"nice":false,"zero":false},"axis":{"orient":"left","values":[0,0.05,0.1,0.15,0.2,0.25,0.3,0.35,0.4,0.45,0.5,0.55,0.6,0.65,0.7,0.75,0.8,0.85,0.9,0.95,1,1.05,1.1,1.15,1.2,1.25,1.3,1.35,1.4],"labels":false,"title":null,"tickSize":{"condition":{"test":"abs(datum.value*5-round(datum.value*5))<0.001","value":-7},"value":-4}}},"y2":{"field":"ds"}}},
{"transform":[{"filter":"datum.p=='K'&&datum.k=='c'"}],"mark":{"type":"line","color":"black","strokeWidth":2,"interpolate":"monotone","clip":true},"encoding":{"x":{"field":"x","type":"quantitative","scale":{"type":"log","domain":[0.5,4000],"nice":false},"axis":{"orient":"top","values":[0.5,0.6,0.7,0.8,0.9,1,2,3,4,5,6,7,8,9,10,20,30,40,50,60,70,80,90,100,200,300,400,500,600,700,800,900,1000,2000,3000,4000],"labels":false,"title":null,"tickSize":{"condition":{"test":"datum.value==1||datum.value==10||datum.value==100||datum.value==1000","value":-7},"value":-4}}},"y":{"field":"s","type":"quantitative","scale":{"domain":[0,1.4],"nice":false,"zero":false},"axis":{"orient":"right","values":[0,0.05,0.1,0.15,0.2,0.25,0.3,0.35,0.4,0.45,0.5,0.55,0.6,0.65,0.7,0.75,0.8,0.85,0.9,0.95,1,1.05,1.1,1.15,1.2,1.25,1.3,1.35,1.4],"labels":false,"title":null,"tickSize":{"condition":{"test":"abs(datum.value*5-round(datum.value*5))<0.001","value":-7},"value":-4}}}}},
{"transform":[{"filter":"datum.p=='K'&&datum.k=='c'"}],"mark":{"type":"line","color":"black","strokeWidth":2,"strokeDash":[9,5],"interpolate":"monotone","clip":true},"encoding":{"x":{"field":"x","type":"quantitative","scale":{"type":"log","domain":[0.5,4000],"nice":false},"axis":null},"y":{"field":"ds","type":"quantitative","scale":{"domain":[0,1.4],"nice":false,"zero":false},"axis":null}}},
{"transform":[{"filter":"datum.p=='K'&&datum.k=='c'"}],"mark":{"type":"line","color":"black","strokeWidth":2,"strokeDash":[10,4,2,4],"interpolate":"monotone","clip":true},"encoding":{"x":{"field":"x","type":"quantitative","scale":{"type":"log","domain":[0.5,4000],"nice":false},"axis":null},"y":{"field":"dd","type":"quantitative","scale":{"domain":[0,1.4],"nice":false,"zero":false},"axis":null}}},
{"data":{"values":[{}]},"mark":{"type":"rule","color":"#777","strokeWidth":0.9,"strokeDash":[2,2]},"encoding":{"y":{"datum":1,"type":"quantitative","scale":{"domain":[0,1.4],"nice":false,"zero":false},"axis":null}}},
{"transform":[{"filter":"datum.p=='K'&&datum.k=='bpp'"}],"mark":{"type":"area","color":"#57e357","fillOpacity":0.45,"stroke":"#3fd83f","strokeWidth":0.8,"clip":true},"encoding":{"x":{"field":"x","type":"quantitative","scale":{"type":"log","domain":[0.5,4000],"nice":false},"axis":null},"y":{"field":"lo","type":"quantitative","scale":{"domain":[0,1.4],"nice":false,"zero":false},"axis":null},"y2":{"field":"hi"}}},
{"transform":[{"filter":"datum.p=='K'&&datum.k=='bpPb'"}],"mark":{"type":"area","color":"#3c50ff","fillOpacity":0.4,"stroke":"#4a5aff","strokeWidth":0.8,"clip":true},"encoding":{"x":{"field":"x","type":"quantitative","scale":{"type":"log","domain":[0.5,4000],"nice":false},"axis":null},"y":{"field":"lo","type":"quantitative","scale":{"domain":[0,1.4],"nice":false,"zero":false},"axis":null},"y2":{"field":"hi"}}},
{"transform":[{"filter":"datum.p=='K'&&datum.k=='bPbPb'"}],"mark":{"type":"area","color":"#ff6070","fillOpacity":0.45,"stroke":"#ff4050","strokeWidth":0.8,"clip":true},"encoding":{"x":{"field":"x","type":"quantitative","scale":{"type":"log","domain":[0.5,4000],"nice":false},"axis":null},"y":{"field":"lo","type":"quantitative","scale":{"domain":[0,1.4],"nice":false,"zero":false},"axis":null},"y2":{"field":"hi"}}},
{"transform":[{"filter":"datum.p=='K'&&datum.k=='pp'"}],"mark":{"type":"point","shape":"circle","filled":true,"color":"#1d7a3a","size":28,"opacity":1},"encoding":{"x":{"field":"x","type":"quantitative","scale":{"type":"log","domain":[0.5,4000],"nice":false},"axis":null},"y":{"field":"v","type":"quantitative","scale":{"domain":[0,1.4],"nice":false,"zero":false},"axis":null}}},
{"transform":[{"filter":"datum.p=='K'&&datum.k=='pPb'"}],"mark":{"type":"point","shape":"square","filled":true,"color":"#1f45ff","size":26,"opacity":1},"encoding":{"x":{"field":"x","type":"quantitative","scale":{"type":"log","domain":[0.5,4000],"nice":false},"axis":null},"y":{"field":"v","type":"quantitative","scale":{"domain":[0,1.4],"nice":false,"zero":false},"axis":null}}},
{"transform":[{"filter":"datum.p=='K'&&datum.k=='PbPb'"}],"mark":{"type":"point","shape":"diamond","filled":true,"color":"#ff1a1a","size":45,"opacity":1},"encoding":{"x":{"field":"x","type":"quantitative","scale":{"type":"log","domain":[0.5,4000],"nice":false},"axis":null},"y":{"field":"v","type":"quantitative","scale":{"domain":[0,1.4],"nice":false,"zero":false},"axis":null}}},
{"data":{"values":[{}]},"mark":{"type":"text","text":"K/π","align":"left","baseline":"middle","fontSize":18},"encoding":{"x":{"datum":0.91,"type":"quantitative","scale":{"type":"log","domain":[0.5,4000],"nice":false},"axis":null},"y":{"datum":1.278,"type":"quantitative","scale":{"domain":[0,1.4],"nice":false,"zero":false},"axis":null}}}
]},
{"width":331.5,"height":242,"resolve":{"axis":{"x":"independent","y":"independent"}},"layer":[
{"transform":[{"filter":"datum.p=='phi'&&datum.k=='c'"}],"mark":{"type":"area","color":"#bfbfbf","interpolate":"monotone","clip":true},"encoding":{"x":{"field":"x","type":"quantitative","scale":{"type":"log","domain":[0.5,4000],"nice":false},"axis":{"orient":"bottom","values":[0.5,0.6,0.7,0.8,0.9,1,2,3,4,5,6,7,8,9,10,20,30,40,50,60,70,80,90,100,200,300,400,500,600,700,800,900,1000,2000,3000,4000],"labels":false,"title":null,"tickSize":{"condition":{"test":"datum.value==1||datum.value==10||datum.value==100||datum.value==1000","value":-7},"value":-4}}},"y":{"field":"s","type":"quantitative","scale":{"domain":[0,1.4],"nice":false,"zero":false},"axis":{"orient":"left","values":[0,0.05,0.1,0.15,0.2,0.25,0.3,0.35,0.4,0.45,0.5,0.55,0.6,0.65,0.7,0.75,0.8,0.85,0.9,0.95,1,1.05,1.1,1.15,1.2,1.25,1.3,1.35,1.4],"labels":false,"title":null,"tickSize":{"condition":{"test":"abs(datum.value*5-round(datum.value*5))<0.001","value":-7},"value":-4}}},"y2":{"field":"ds"}}},
{"transform":[{"filter":"datum.p=='phi'&&datum.k=='c'"}],"mark":{"type":"line","color":"black","strokeWidth":2,"interpolate":"monotone","clip":true},"encoding":{"x":{"field":"x","type":"quantitative","scale":{"type":"log","domain":[0.5,4000],"nice":false},"axis":{"orient":"top","values":[0.5,0.6,0.7,0.8,0.9,1,2,3,4,5,6,7,8,9,10,20,30,40,50,60,70,80,90,100,200,300,400,500,600,700,800,900,1000,2000,3000,4000],"labels":false,"title":null,"tickSize":{"condition":{"test":"datum.value==1||datum.value==10||datum.value==100||datum.value==1000","value":-7},"value":-4}}},"y":{"field":"s","type":"quantitative","scale":{"domain":[0,1.4],"nice":false,"zero":false},"axis":{"orient":"right","values":[0,0.05,0.1,0.15,0.2,0.25,0.3,0.35,0.4,0.45,0.5,0.55,0.6,0.65,0.7,0.75,0.8,0.85,0.9,0.95,1,1.05,1.1,1.15,1.2,1.25,1.3,1.35,1.4],"labels":false,"title":null,"tickSize":{"condition":{"test":"abs(datum.value*5-round(datum.value*5))<0.001","value":-7},"value":-4}}}}},
{"transform":[{"filter":"datum.p=='phi'&&datum.k=='c'"}],"mark":{"type":"line","color":"black","strokeWidth":2,"strokeDash":[9,5],"interpolate":"monotone","clip":true},"encoding":{"x":{"field":"x","type":"quantitative","scale":{"type":"log","domain":[0.5,4000],"nice":false},"axis":null},"y":{"field":"ds","type":"quantitative","scale":{"domain":[0,1.4],"nice":false,"zero":false},"axis":null}}},
{"transform":[{"filter":"datum.p=='phi'&&datum.k=='c'"}],"mark":{"type":"line","color":"black","strokeWidth":2,"strokeDash":[10,4,2,4],"interpolate":"monotone","clip":true},"encoding":{"x":{"field":"x","type":"quantitative","scale":{"type":"log","domain":[0.5,4000],"nice":false},"axis":null},"y":{"field":"dd","type":"quantitative","scale":{"domain":[0,1.4],"nice":false,"zero":false},"axis":null}}},
{"data":{"values":[{}]},"mark":{"type":"rule","color":"#777","strokeWidth":0.9,"strokeDash":[2,2]},"encoding":{"y":{"datum":1,"type":"quantitative","scale":{"domain":[0,1.4],"nice":false,"zero":false},"axis":null}}},
{"transform":[{"filter":"datum.p=='phi'&&datum.k=='bpp'"}],"mark":{"type":"area","color":"#57e357","fillOpacity":0.45,"stroke":"#3fd83f","strokeWidth":0.8,"clip":true},"encoding":{"x":{"field":"x","type":"quantitative","scale":{"type":"log","domain":[0.5,4000],"nice":false},"axis":null},"y":{"field":"lo","type":"quantitative","scale":{"domain":[0,1.4],"nice":false,"zero":false},"axis":null},"y2":{"field":"hi"}}},
{"transform":[{"filter":"datum.p=='phi'&&datum.k=='bpPb'"}],"mark":{"type":"area","color":"#3c50ff","fillOpacity":0.4,"stroke":"#4a5aff","strokeWidth":0.8,"clip":true},"encoding":{"x":{"field":"x","type":"quantitative","scale":{"type":"log","domain":[0.5,4000],"nice":false},"axis":null},"y":{"field":"lo","type":"quantitative","scale":{"domain":[0,1.4],"nice":false,"zero":false},"axis":null},"y2":{"field":"hi"}}},
{"transform":[{"filter":"datum.p=='phi'&&datum.k=='bPbPb'"}],"mark":{"type":"area","color":"#ff6070","fillOpacity":0.45,"stroke":"#ff4050","strokeWidth":0.8,"clip":true},"encoding":{"x":{"field":"x","type":"quantitative","scale":{"type":"log","domain":[0.5,4000],"nice":false},"axis":null},"y":{"field":"lo","type":"quantitative","scale":{"domain":[0,1.4],"nice":false,"zero":false},"axis":null},"y2":{"field":"hi"}}},
{"transform":[{"filter":"datum.p=='phi'&&datum.k=='pp'"}],"mark":{"type":"point","shape":"circle","filled":true,"color":"#1d7a3a","size":28,"opacity":1},"encoding":{"x":{"field":"x","type":"quantitative","scale":{"type":"log","domain":[0.5,4000],"nice":false},"axis":null},"y":{"field":"v","type":"quantitative","scale":{"domain":[0,1.4],"nice":false,"zero":false},"axis":null}}},
{"transform":[{"filter":"datum.p=='phi'&&datum.k=='pPb'"}],"mark":{"type":"point","shape":"square","filled":true,"color":"#1f45ff","size":26,"opacity":1},"encoding":{"x":{"field":"x","type":"quantitative","scale":{"type":"log","domain":[0.5,4000],"nice":false},"axis":null},"y":{"field":"v","type":"quantitative","scale":{"domain":[0,1.4],"nice":false,"zero":false},"axis":null}}},
{"transform":[{"filter":"datum.p=='phi'&&datum.k=='PbPb'"}],"mark":{"type":"point","shape":"diamond","filled":true,"color":"#ff1a1a","size":45,"opacity":1},"encoding":{"x":{"field":"x","type":"quantitative","scale":{"type":"log","domain":[0.5,4000],"nice":false},"axis":null},"y":{"field":"v","type":"quantitative","scale":{"domain":[0,1.4],"nice":false,"zero":false},"axis":null}}},
{"data":{"values":[{}]},"mark":{"type":"text","text":"φ/π","align":"left","baseline":"middle","fontSize":18},"encoding":{"x":{"datum":7.9,"type":"quantitative","scale":{"type":"log","domain":[0.5,4000],"nice":false},"axis":null},"y":{"datum":1.278,"type":"quantitative","scale":{"domain":[0,1.4],"nice":false,"zero":false},"axis":null}}}
]},
{"width":331.5,"height":242,"resolve":{"axis":{"x":"independent","y":"independent"}},"layer":[
{"transform":[{"filter":"datum.p=='L'&&datum.k=='c'"}],"mark":{"type":"area","color":"#bfbfbf","interpolate":"monotone","clip":true},"encoding":{"x":{"field":"x","type":"quantitative","scale":{"type":"log","domain":[0.5,4000],"nice":false},"axis":{"orient":"bottom","values":[0.5,0.6,0.7,0.8,0.9,1,2,3,4,5,6,7,8,9,10,20,30,40,50,60,70,80,90,100,200,300,400,500,600,700,800,900,1000,2000,3000,4000],"title":null,"labelPadding":11,"labelOverlap":false,"labelFlush":false,"labelExpr":"datum.value==1?'10⁰':datum.value==10?'10¹':datum.value==100?'10²':datum.value==1000?'10³':''","tickSize":{"condition":{"test":"datum.value==1||datum.value==10||datum.value==100||datum.value==1000","value":-7},"value":-4}}},"y":{"field":"s","type":"quantitative","scale":{"domain":[0,1.4],"nice":false,"zero":false},"axis":{"orient":"left","values":[0,0.05,0.1,0.15,0.2,0.25,0.3,0.35,0.4,0.45,0.5,0.55,0.6,0.65,0.7,0.75,0.8,0.85,0.9,0.95,1,1.05,1.1,1.15,1.2,1.25,1.3,1.35,1.4],"title":"Ratio to the GCE limit","titlePadding":7,"labelPadding":12,"labelOverlap":false,"labelFlush":false,"labelExpr":"(abs(datum.value*5-round(datum.value*5))<0.001&&datum.value<1.3)?format(datum.value,'.1f'):''","tickSize":{"condition":{"test":"abs(datum.value*5-round(datum.value*5))<0.001","value":-7},"value":-4}}},"y2":{"field":"ds"}}},
{"transform":[{"filter":"datum.p=='L'&&datum.k=='c'"}],"mark":{"type":"line","color":"black","strokeWidth":2,"interpolate":"monotone","clip":true},"encoding":{"x":{"field":"x","type":"quantitative","scale":{"type":"log","domain":[0.5,4000],"nice":false},"axis":{"orient":"top","values":[0.5,0.6,0.7,0.8,0.9,1,2,3,4,5,6,7,8,9,10,20,30,40,50,60,70,80,90,100,200,300,400,500,600,700,800,900,1000,2000,3000,4000],"labels":false,"title":null,"tickSize":{"condition":{"test":"datum.value==1||datum.value==10||datum.value==100||datum.value==1000","value":-7},"value":-4}}},"y":{"field":"s","type":"quantitative","scale":{"domain":[0,1.4],"nice":false,"zero":false},"axis":{"orient":"right","values":[0,0.05,0.1,0.15,0.2,0.25,0.3,0.35,0.4,0.45,0.5,0.55,0.6,0.65,0.7,0.75,0.8,0.85,0.9,0.95,1,1.05,1.1,1.15,1.2,1.25,1.3,1.35,1.4],"labels":false,"title":null,"tickSize":{"condition":{"test":"abs(datum.value*5-round(datum.value*5))<0.001","value":-7},"value":-4}}}}},
{"transform":[{"filter":"datum.p=='L'&&datum.k=='c'"}],"mark":{"type":"line","color":"black","strokeWidth":2,"strokeDash":[9,5],"interpolate":"monotone","clip":true},"encoding":{"x":{"field":"x","type":"quantitative","scale":{"type":"log","domain":[0.5,4000],"nice":false},"axis":null},"y":{"field":"ds","type":"quantitative","scale":{"domain":[0,1.4],"nice":false,"zero":false},"axis":null}}},
{"transform":[{"filter":"datum.p=='L'&&datum.k=='c'"}],"mark":{"type":"line","color":"black","strokeWidth":2,"strokeDash":[10,4,2,4],"interpolate":"monotone","clip":true},"encoding":{"x":{"field":"x","type":"quantitative","scale":{"type":"log","domain":[0.5,4000],"nice":false},"axis":null},"y":{"field":"dd","type":"quantitative","scale":{"domain":[0,1.4],"nice":false,"zero":false},"axis":null}}},
{"data":{"values":[{}]},"mark":{"type":"rule","color":"#777","strokeWidth":0.9,"strokeDash":[2,2]},"encoding":{"y":{"datum":1,"type":"quantitative","scale":{"domain":[0,1.4],"nice":false,"zero":false},"axis":null}}},
{"transform":[{"filter":"datum.p=='L'&&datum.k=='bpp'"}],"mark":{"type":"area","color":"#57e357","fillOpacity":0.45,"stroke":"#3fd83f","strokeWidth":0.8,"clip":true},"encoding":{"x":{"field":"x","type":"quantitative","scale":{"type":"log","domain":[0.5,4000],"nice":false},"axis":null},"y":{"field":"lo","type":"quantitative","scale":{"domain":[0,1.4],"nice":false,"zero":false},"axis":null},"y2":{"field":"hi"}}},
{"transform":[{"filter":"datum.p=='L'&&datum.k=='bpPb'"}],"mark":{"type":"area","color":"#3c50ff","fillOpacity":0.4,"stroke":"#4a5aff","strokeWidth":0.8,"clip":true},"encoding":{"x":{"field":"x","type":"quantitative","scale":{"type":"log","domain":[0.5,4000],"nice":false},"axis":null},"y":{"field":"lo","type":"quantitative","scale":{"domain":[0,1.4],"nice":false,"zero":false},"axis":null},"y2":{"field":"hi"}}},
{"transform":[{"filter":"datum.p=='L'&&datum.k=='bPbPb'"}],"mark":{"type":"area","color":"#ff6070","fillOpacity":0.45,"stroke":"#ff4050","strokeWidth":0.8,"clip":true},"encoding":{"x":{"field":"x","type":"quantitative","scale":{"type":"log","domain":[0.5,4000],"nice":false},"axis":null},"y":{"field":"lo","type":"quantitative","scale":{"domain":[0,1.4],"nice":false,"zero":false},"axis":null},"y2":{"field":"hi"}}},
{"transform":[{"filter":"datum.p=='L'&&datum.k=='pp'"}],"mark":{"type":"point","shape":"circle","filled":true,"color":"#1d7a3a","size":28,"opacity":1},"encoding":{"x":{"field":"x","type":"quantitative","scale":{"type":"log","domain":[0.5,4000],"nice":false},"axis":null},"y":{"field":"v","type":"quantitative","scale":{"domain":[0,1.4],"nice":false,"zero":false},"axis":null}}},
{"transform":[{"filter":"datum.p=='L'&&datum.k=='pPb'"}],"mark":{"type":"point","shape":"square","filled":true,"color":"#1f45ff","size":26,"opacity":1},"encoding":{"x":{"field":"x","type":"quantitative","scale":{"type":"log","domain":[0.5,4000],"nice":false},"axis":null},"y":{"field":"v","type":"quantitative","scale":{"domain":[0,1.4],"nice":false,"zero":false},"axis":null}}},
{"transform":[{"filter":"datum.p=='L'&&datum.k=='PbPb'"}],"mark":{"type":"point","shape":"diamond","filled":true,"color":"#ff1a1a","size":45,"opacity":1},"encoding":{"x":{"field":"x","type":"quantitative","scale":{"type":"log","domain":[0.5,4000],"nice":false},"axis":null},"y":{"field":"v","type":"quantitative","scale":{"domain":[0,1.4],"nice":false,"zero":false},"axis":null}}},
{"data":{"values":[{}]},"mark":{"type":"text","text":"Λ/π","align":"left","baseline":"middle","fontSize":18},"encoding":{"x":{"datum":0.87,"type":"quantitative","scale":{"type":"log","domain":[0.5,4000],"nice":false},"axis":null},"y":{"datum":1.261,"type":"quantitative","scale":{"domain":[0,1.4],"nice":false,"zero":false},"axis":null}}},
{"data":{"values":[{}]},"mark":{"type":"text","text":"Vanilla CSM","align":"left","baseline":"middle","fontSize":15,"fontWeight":"bold"},"encoding":{"x":{"datum":35.4,"type":"quantitative","scale":{"type":"log","domain":[0.5,4000],"nice":false},"axis":null},"y":{"datum":0.669,"type":"quantitative","scale":{"domain":[0,1.4],"nice":false,"zero":false},"axis":null}}},
{"data":{"values":[{}]},"mark":{"type":"text","text":"T = 155 MeV","align":"left","baseline":"middle","fontSize":15},"encoding":{"x":{"datum":38.1,"type":"quantitative","scale":{"type":"log","domain":[0.5,4000],"nice":false},"axis":null},"y":{"datum":0.557,"type":"quantitative","scale":{"domain":[0,1.4],"nice":false,"zero":false},"axis":null}}},
{"data":{"values":[{}]},"mark":{"type":"rule","color":"black","strokeWidth":2},"encoding":{"x":{"datum":12.9,"type":"quantitative","scale":{"type":"log","domain":[0.5,4000],"nice":false},"axis":null},"x2":{"datum":28.3},"y":{"datum":0.43,"type":"quantitative","scale":{"domain":[0,1.4],"nice":false,"zero":false},"axis":null}}},
{"data":{"values":[{}]},"mark":{"type":"rule","color":"black","strokeWidth":2,"strokeDash":[9,5]},"encoding":{"x":{"datum":12.9,"type":"quantitative","scale":{"type":"log","domain":[0.5,4000],"nice":false},"axis":null},"x2":{"datum":28.3},"y":{"datum":0.285,"type":"quantitative","scale":{"domain":[0,1.4],"nice":false,"zero":false},"axis":null}}},
{"data":{"values":[{}]},"mark":{"type":"rule","color":"black","strokeWidth":2,"strokeDash":[10,4,2,4]},"encoding":{"x":{"datum":12.9,"type":"quantitative","scale":{"type":"log","domain":[0.5,4000],"nice":false},"axis":null},"x2":{"datum":28.3},"y":{"datum":0.15,"type":"quantitative","scale":{"domain":[0,1.4],"nice":false,"zero":false},"axis":null}}},
{"data":{"values":[{}]},"mark":{"type":"text","text":"V","align":"left","baseline":"middle","fontSize":15},"encoding":{"x":{"datum":37.1,"type":"quantitative","scale":{"type":"log","domain":[0.5,4000],"nice":false},"axis":null},"y":{"datum":0.43,"type":"quantitative","scale":{"domain":[0,1.4],"nice":false,"zero":false},"axis":null}}},
{"data":{"values":[{}]},"mark":{"type":"text","text":"C","align":"left","baseline":"middle","fontSize":10,"dx":11,"dy":5},"encoding":{"x":{"datum":37.1,"type":"quantitative","scale":{"type":"log","domain":[0.5,4000],"nice":false},"axis":null},"y":{"datum":0.43,"type":"quantitative","scale":{"domain":[0,1.4],"nice":false,"zero":false},"axis":null}}},
{"data":{"values":[{}]},"mark":{"type":"text","text":"= dV/dy","align":"left","baseline":"middle","fontSize":15,"dx":21},"encoding":{"x":{"datum":37.1,"type":"quantitative","scale":{"type":"log","domain":[0.5,4000],"nice":false},"axis":null},"y":{"datum":0.43,"type":"quantitative","scale":{"domain":[0,1.4],"nice":false,"zero":false},"axis":null}}},
{"data":{"values":[{}]},"mark":{"type":"text","text":"V","align":"left","baseline":"middle","fontSize":15},"encoding":{"x":{"datum":37.1,"type":"quantitative","scale":{"type":"log","domain":[0.5,4000],"nice":false},"axis":null},"y":{"datum":0.285,"type":"quantitative","scale":{"domain":[0,1.4],"nice":false,"zero":false},"axis":null}}},
{"data":{"values":[{}]},"mark":{"type":"text","text":"C","align":"left","baseline":"middle","fontSize":10,"dx":11,"dy":5},"encoding":{"x":{"datum":37.1,"type":"quantitative","scale":{"type":"log","domain":[0.5,4000],"nice":false},"axis":null},"y":{"datum":0.285,"type":"quantitative","scale":{"domain":[0,1.4],"nice":false,"zero":false},"axis":null}}},
{"data":{"values":[{}]},"mark":{"type":"text","text":"= 3 dV/dy","align":"left","baseline":"middle","fontSize":15,"dx":21},"encoding":{"x":{"datum":37.1,"type":"quantitative","scale":{"type":"log","domain":[0.5,4000],"nice":false},"axis":null},"y":{"datum":0.285,"type":"quantitative","scale":{"domain":[0,1.4],"nice":false,"zero":false},"axis":null}}},
{"data":{"values":[{}]},"mark":{"type":"text","text":"V","align":"left","baseline":"middle","fontSize":15},"encoding":{"x":{"datum":37.1,"type":"quantitative","scale":{"type":"log","domain":[0.5,4000],"nice":false},"axis":null},"y":{"datum":0.15,"type":"quantitative","scale":{"domain":[0,1.4],"nice":false,"zero":false},"axis":null}}},
{"data":{"values":[{}]},"mark":{"type":"text","text":"C","align":"left","baseline":"middle","fontSize":10,"dx":11,"dy":5},"encoding":{"x":{"datum":37.1,"type":"quantitative","scale":{"type":"log","domain":[0.5,4000],"nice":false},"axis":null},"y":{"datum":0.15,"type":"quantitative","scale":{"domain":[0,1.4],"nice":false,"zero":false},"axis":null}}},
{"data":{"values":[{}]},"mark":{"type":"text","text":"= 6 dV/dy","align":"left","baseline":"middle","fontSize":15,"dx":21},"encoding":{"x":{"datum":37.1,"type":"quantitative","scale":{"type":"log","domain":[0.5,4000],"nice":false},"axis":null},"y":{"datum":0.15,"type":"quantitative","scale":{"domain":[0,1.4],"nice":false,"zero":false},"axis":null}}},
{"data":{"values":[{}]},"mark":{"type":"text","text":"dN","align":"right","baseline":"middle","fontSize":20,"dx":-4},"encoding":{"x":{"datum":51.8,"type":"quantitative","scale":{"type":"log","domain":[0.5,4000],"nice":false},"axis":null},"y":{"datum":-0.26,"type":"quantitative","scale":{"domain":[0,1.4],"nice":false,"zero":false},"axis":null}}},
{"data":{"values":[{}]},"mark":{"type":"text","text":"π","align":"center","baseline":"middle","fontSize":13,"dy":7},"encoding":{"x":{"datum":51.8,"type":"quantitative","scale":{"type":"log","domain":[0.5,4000],"nice":false},"axis":null},"y":{"datum":-0.26,"type":"quantitative","scale":{"domain":[0,1.4],"nice":false,"zero":false},"axis":null}}},
{"data":{"values":[{}]},"mark":{"type":"text","text":"/dy","align":"left","baseline":"middle","fontSize":20,"dx":4},"encoding":{"x":{"datum":51.8,"type":"quantitative","scale":{"type":"log","domain":[0.5,4000],"nice":false},"axis":null},"y":{"datum":-0.26,"type":"quantitative","scale":{"domain":[0,1.4],"nice":false,"zero":false},"axis":null}}}
]},
{"width":331.5,"height":242,"resolve":{"axis":{"x":"independent","y":"independent"}},"layer":[
{"transform":[{"filter":"datum.p=='Xi'&&datum.k=='c'"}],"mark":{"type":"area","color":"#bfbfbf","interpolate":"monotone","clip":true},"encoding":{"x":{"field":"x","type":"quantitative","scale":{"type":"log","domain":[0.5,4000],"nice":false},"axis":{"orient":"bottom","values":[0.5,0.6,0.7,0.8,0.9,1,2,3,4,5,6,7,8,9,10,20,30,40,50,60,70,80,90,100,200,300,400,500,600,700,800,900,1000,2000,3000,4000],"title":null,"labelPadding":11,"labelOverlap":false,"labelFlush":false,"labelExpr":"datum.value==1?'10⁰':datum.value==10?'10¹':datum.value==100?'10²':datum.value==1000?'10³':''","tickSize":{"condition":{"test":"datum.value==1||datum.value==10||datum.value==100||datum.value==1000","value":-7},"value":-4}}},"y":{"field":"s","type":"quantitative","scale":{"domain":[0,1.4],"nice":false,"zero":false},"axis":{"orient":"left","values":[0,0.05,0.1,0.15,0.2,0.25,0.3,0.35,0.4,0.45,0.5,0.55,0.6,0.65,0.7,0.75,0.8,0.85,0.9,0.95,1,1.05,1.1,1.15,1.2,1.25,1.3,1.35,1.4],"labels":false,"title":null,"tickSize":{"condition":{"test":"abs(datum.value*5-round(datum.value*5))<0.001","value":-7},"value":-4}}},"y2":{"field":"ds"}}},
{"transform":[{"filter":"datum.p=='Xi'&&datum.k=='c'"}],"mark":{"type":"line","color":"black","strokeWidth":2,"interpolate":"monotone","clip":true},"encoding":{"x":{"field":"x","type":"quantitative","scale":{"type":"log","domain":[0.5,4000],"nice":false},"axis":{"orient":"top","values":[0.5,0.6,0.7,0.8,0.9,1,2,3,4,5,6,7,8,9,10,20,30,40,50,60,70,80,90,100,200,300,400,500,600,700,800,900,1000,2000,3000,4000],"labels":false,"title":null,"tickSize":{"condition":{"test":"datum.value==1||datum.value==10||datum.value==100||datum.value==1000","value":-7},"value":-4}}},"y":{"field":"s","type":"quantitative","scale":{"domain":[0,1.4],"nice":false,"zero":false},"axis":{"orient":"right","values":[0,0.05,0.1,0.15,0.2,0.25,0.3,0.35,0.4,0.45,0.5,0.55,0.6,0.65,0.7,0.75,0.8,0.85,0.9,0.95,1,1.05,1.1,1.15,1.2,1.25,1.3,1.35,1.4],"labels":false,"title":null,"tickSize":{"condition":{"test":"abs(datum.value*5-round(datum.value*5))<0.001","value":-7},"value":-4}}}}},
{"transform":[{"filter":"datum.p=='Xi'&&datum.k=='c'"}],"mark":{"type":"line","color":"black","strokeWidth":2,"strokeDash":[9,5],"interpolate":"monotone","clip":true},"encoding":{"x":{"field":"x","type":"quantitative","scale":{"type":"log","domain":[0.5,4000],"nice":false},"axis":null},"y":{"field":"ds","type":"quantitative","scale":{"domain":[0,1.4],"nice":false,"zero":false},"axis":null}}},
{"transform":[{"filter":"datum.p=='Xi'&&datum.k=='c'"}],"mark":{"type":"line","color":"black","strokeWidth":2,"strokeDash":[10,4,2,4],"interpolate":"monotone","clip":true},"encoding":{"x":{"field":"x","type":"quantitative","scale":{"type":"log","domain":[0.5,4000],"nice":false},"axis":null},"y":{"field":"dd","type":"quantitative","scale":{"domain":[0,1.4],"nice":false,"zero":false},"axis":null}}},
{"data":{"values":[{}]},"mark":{"type":"rule","color":"#777","strokeWidth":0.9,"strokeDash":[2,2]},"encoding":{"y":{"datum":1,"type":"quantitative","scale":{"domain":[0,1.4],"nice":false,"zero":false},"axis":null}}},
{"transform":[{"filter":"datum.p=='Xi'&&datum.k=='bpp'"}],"mark":{"type":"area","color":"#57e357","fillOpacity":0.45,"stroke":"#3fd83f","strokeWidth":0.8,"clip":true},"encoding":{"x":{"field":"x","type":"quantitative","scale":{"type":"log","domain":[0.5,4000],"nice":false},"axis":null},"y":{"field":"lo","type":"quantitative","scale":{"domain":[0,1.4],"nice":false,"zero":false},"axis":null},"y2":{"field":"hi"}}},
{"transform":[{"filter":"datum.p=='Xi'&&datum.k=='bpPb'"}],"mark":{"type":"area","color":"#3c50ff","fillOpacity":0.4,"stroke":"#4a5aff","strokeWidth":0.8,"clip":true},"encoding":{"x":{"field":"x","type":"quantitative","scale":{"type":"log","domain":[0.5,4000],"nice":false},"axis":null},"y":{"field":"lo","type":"quantitative","scale":{"domain":[0,1.4],"nice":false,"zero":false},"axis":null},"y2":{"field":"hi"}}},
{"transform":[{"filter":"datum.p=='Xi'&&datum.k=='bPbPb'"}],"mark":{"type":"area","color":"#ff6070","fillOpacity":0.45,"stroke":"#ff4050","strokeWidth":0.8,"clip":true},"encoding":{"x":{"field":"x","type":"quantitative","scale":{"type":"log","domain":[0.5,4000],"nice":false},"axis":null},"y":{"field":"lo","type":"quantitative","scale":{"domain":[0,1.4],"nice":false,"zero":false},"axis":null},"y2":{"field":"hi"}}},
{"transform":[{"filter":"datum.p=='Xi'&&datum.k=='pp'"}],"mark":{"type":"point","shape":"circle","filled":true,"color":"#1d7a3a","size":28,"opacity":1},"encoding":{"x":{"field":"x","type":"quantitative","scale":{"type":"log","domain":[0.5,4000],"nice":false},"axis":null},"y":{"field":"v","type":"quantitative","scale":{"domain":[0,1.4],"nice":false,"zero":false},"axis":null}}},
{"transform":[{"filter":"datum.p=='Xi'&&datum.k=='pPb'"}],"mark":{"type":"point","shape":"square","filled":true,"color":"#1f45ff","size":26,"opacity":1},"encoding":{"x":{"field":"x","type":"quantitative","scale":{"type":"log","domain":[0.5,4000],"nice":false},"axis":null},"y":{"field":"v","type":"quantitative","scale":{"domain":[0,1.4],"nice":false,"zero":false},"axis":null}}},
{"transform":[{"filter":"datum.p=='Xi'&&datum.k=='PbPb'"}],"mark":{"type":"point","shape":"diamond","filled":true,"color":"#ff1a1a","size":45,"opacity":1},"encoding":{"x":{"field":"x","type":"quantitative","scale":{"type":"log","domain":[0.5,4000],"nice":false},"axis":null},"y":{"field":"v","type":"quantitative","scale":{"domain":[0,1.4],"nice":false,"zero":false},"axis":null}}},
{"data":{"values":[{}]},"mark":{"type":"text","text":"Ξ/π","align":"left","baseline":"middle","fontSize":18},"encoding":{"x":{"datum":0.91,"type":"quantitative","scale":{"type":"log","domain":[0.5,4000],"nice":false},"axis":null},"y":{"datum":1.272,"type":"quantitative","scale":{"domain":[0,1.4],"nice":false,"zero":false},"axis":null}}},
{"data":{"values":[{}]},"mark":{"type":"text","text":"dN","align":"right","baseline":"middle","fontSize":20,"dx":-4},"encoding":{"x":{"datum":51.8,"type":"quantitative","scale":{"type":"log","domain":[0.5,4000],"nice":false},"axis":null},"y":{"datum":-0.26,"type":"quantitative","scale":{"domain":[0,1.4],"nice":false,"zero":false},"axis":null}}},
{"data":{"values":[{}]},"mark":{"type":"text","text":"π","align":"center","baseline":"middle","fontSize":13,"dy":7},"encoding":{"x":{"datum":51.8,"type":"quantitative","scale":{"type":"log","domain":[0.5,4000],"nice":false},"axis":null},"y":{"datum":-0.26,"type":"quantitative","scale":{"domain":[0,1.4],"nice":false,"zero":false},"axis":null}}},
{"data":{"values":[{}]},"mark":{"type":"text","text":"/dy","align":"left","baseline":"middle","fontSize":20,"dx":4},"encoding":{"x":{"datum":51.8,"type":"quantitative","scale":{"type":"log","domain":[0.5,4000],"nice":false},"axis":null},"y":{"datum":-0.26,"type":"quantitative","scale":{"domain":[0,1.4],"nice":false,"zero":false},"axis":null}}}
]},
{"width":331.5,"height":242,"resolve":{"axis":{"x":"independent","y":"independent"}},"layer":[
{"transform":[{"filter":"datum.p=='Om'&&datum.k=='c'"}],"mark":{"type":"area","color":"#bfbfbf","interpolate":"monotone","clip":true},"encoding":{"x":{"field":"x","type":"quantitative","scale":{"type":"log","domain":[0.5,4000],"nice":false},"axis":{"orient":"bottom","values":[0.5,0.6,0.7,0.8,0.9,1,2,3,4,5,6,7,8,9,10,20,30,40,50,60,70,80,90,100,200,300,400,500,600,700,800,900,1000,2000,3000,4000],"title":null,"labelPadding":11,"labelOverlap":false,"labelFlush":false,"labelExpr":"datum.value==1?'10⁰':datum.value==10?'10¹':datum.value==100?'10²':datum.value==1000?'10³':''","tickSize":{"condition":{"test":"datum.value==1||datum.value==10||datum.value==100||datum.value==1000","value":-7},"value":-4}}},"y":{"field":"s","type":"quantitative","scale":{"domain":[0,1.4],"nice":false,"zero":false},"axis":{"orient":"left","values":[0,0.05,0.1,0.15,0.2,0.25,0.3,0.35,0.4,0.45,0.5,0.55,0.6,0.65,0.7,0.75,0.8,0.85,0.9,0.95,1,1.05,1.1,1.15,1.2,1.25,1.3,1.35,1.4],"labels":false,"title":null,"tickSize":{"condition":{"test":"abs(datum.value*5-round(datum.value*5))<0.001","value":-7},"value":-4}}},"y2":{"field":"ds"}}},
{"transform":[{"filter":"datum.p=='Om'&&datum.k=='c'"}],"mark":{"type":"line","color":"black","strokeWidth":2,"interpolate":"monotone","clip":true},"encoding":{"x":{"field":"x","type":"quantitative","scale":{"type":"log","domain":[0.5,4000],"nice":false},"axis":{"orient":"top","values":[0.5,0.6,0.7,0.8,0.9,1,2,3,4,5,6,7,8,9,10,20,30,40,50,60,70,80,90,100,200,300,400,500,600,700,800,900,1000,2000,3000,4000],"labels":false,"title":null,"tickSize":{"condition":{"test":"datum.value==1||datum.value==10||datum.value==100||datum.value==1000","value":-7},"value":-4}}},"y":{"field":"s","type":"quantitative","scale":{"domain":[0,1.4],"nice":false,"zero":false},"axis":{"orient":"right","values":[0,0.05,0.1,0.15,0.2,0.25,0.3,0.35,0.4,0.45,0.5,0.55,0.6,0.65,0.7,0.75,0.8,0.85,0.9,0.95,1,1.05,1.1,1.15,1.2,1.25,1.3,1.35,1.4],"labels":false,"title":null,"tickSize":{"condition":{"test":"abs(datum.value*5-round(datum.value*5))<0.001","value":-7},"value":-4}}}}},
{"transform":[{"filter":"datum.p=='Om'&&datum.k=='c'"}],"mark":{"type":"line","color":"black","strokeWidth":2,"strokeDash":[9,5],"interpolate":"monotone","clip":true},"encoding":{"x":{"field":"x","type":"quantitative","scale":{"type":"log","domain":[0.5,4000],"nice":false},"axis":null},"y":{"field":"ds","type":"quantitative","scale":{"domain":[0,1.4],"nice":false,"zero":false},"axis":null}}},
{"transform":[{"filter":"datum.p=='Om'&&datum.k=='c'"}],"mark":{"type":"line","color":"black","strokeWidth":2,"strokeDash":[10,4,2,4],"interpolate":"monotone","clip":true},"encoding":{"x":{"field":"x","type":"quantitative","scale":{"type":"log","domain":[0.5,4000],"nice":false},"axis":null},"y":{"field":"dd","type":"quantitative","scale":{"domain":[0,1.4],"nice":false,"zero":false},"axis":null}}},
{"data":{"values":[{}]},"mark":{"type":"rule","color":"#777","strokeWidth":0.9,"strokeDash":[2,2]},"encoding":{"y":{"datum":1,"type":"quantitative","scale":{"domain":[0,1.4],"nice":false,"zero":false},"axis":null}}},
{"transform":[{"filter":"datum.p=='Om'&&datum.k=='bpp'"}],"mark":{"type":"area","color":"#57e357","fillOpacity":0.45,"stroke":"#3fd83f","strokeWidth":0.8,"clip":true},"encoding":{"x":{"field":"x","type":"quantitative","scale":{"type":"log","domain":[0.5,4000],"nice":false},"axis":null},"y":{"field":"lo","type":"quantitative","scale":{"domain":[0,1.4],"nice":false,"zero":false},"axis":null},"y2":{"field":"hi"}}},
{"transform":[{"filter":"datum.p=='Om'&&datum.k=='bpPb'"}],"mark":{"type":"area","color":"#3c50ff","fillOpacity":0.4,"stroke":"#4a5aff","strokeWidth":0.8,"clip":true},"encoding":{"x":{"field":"x","type":"quantitative","scale":{"type":"log","domain":[0.5,4000],"nice":false},"axis":null},"y":{"field":"lo","type":"quantitative","scale":{"domain":[0,1.4],"nice":false,"zero":false},"axis":null},"y2":{"field":"hi"}}},
{"transform":[{"filter":"datum.p=='Om'&&datum.k=='bPbPb'"}],"mark":{"type":"area","color":"#ff6070","fillOpacity":0.45,"stroke":"#ff4050","strokeWidth":0.8,"clip":true},"encoding":{"x":{"field":"x","type":"quantitative","scale":{"type":"log","domain":[0.5,4000],"nice":false},"axis":null},"y":{"field":"lo","type":"quantitative","scale":{"domain":[0,1.4],"nice":false,"zero":false},"axis":null},"y2":{"field":"hi"}}},
{"transform":[{"filter":"datum.p=='Om'&&datum.k=='pp'"}],"mark":{"type":"point","shape":"circle","filled":true,"color":"#1d7a3a","size":28,"opacity":1},"encoding":{"x":{"field":"x","type":"quantitative","scale":{"type":"log","domain":[0.5,4000],"nice":false},"axis":null},"y":{"field":"v","type":"quantitative","scale":{"domain":[0,1.4],"nice":false,"zero":false},"axis":null}}},
{"transform":[{"filter":"datum.p=='Om'&&datum.k=='pPb'"}],"mark":{"type":"point","shape":"square","filled":true,"color":"#1f45ff","size":26,"opacity":1},"encoding":{"x":{"field":"x","type":"quantitative","scale":{"type":"log","domain":[0.5,4000],"nice":false},"axis":null},"y":{"field":"v","type":"quantitative","scale":{"domain":[0,1.4],"nice":false,"zero":false},"axis":null}}},
{"transform":[{"filter":"datum.p=='Om'&&datum.k=='PbPb'"}],"mark":{"type":"point","shape":"diamond","filled":true,"color":"#ff1a1a","size":45,"opacity":1},"encoding":{"x":{"field":"x","type":"quantitative","scale":{"type":"log","domain":[0.5,4000],"nice":false},"axis":null},"y":{"field":"v","type":"quantitative","scale":{"domain":[0,1.4],"nice":false,"zero":false},"axis":null}}},
{"data":{"values":[{}]},"mark":{"type":"text","text":"Ω/π","align":"left","baseline":"middle","fontSize":18},"encoding":{"x":{"datum":0.87,"type":"quantitative","scale":{"type":"log","domain":[0.5,4000],"nice":false},"axis":null},"y":{"datum":1.267,"type":"quantitative","scale":{"domain":[0,1.4],"nice":false,"zero":false},"axis":null}}},
{"data":{"values":[{}]},"mark":{"type":"text","text":"dN","align":"right","baseline":"middle","fontSize":20,"dx":-4},"encoding":{"x":{"datum":51.8,"type":"quantitative","scale":{"type":"log","domain":[0.5,4000],"nice":false},"axis":null},"y":{"datum":-0.26,"type":"quantitative","scale":{"domain":[0,1.4],"nice":false,"zero":false},"axis":null}}},
{"data":{"values":[{}]},"mark":{"type":"text","text":"π","align":"center","baseline":"middle","fontSize":13,"dy":7},"encoding":{"x":{"datum":51.8,"type":"quantitative","scale":{"type":"log","domain":[0.5,4000],"nice":false},"axis":null},"y":{"datum":-0.26,"type":"quantitative","scale":{"domain":[0,1.4],"nice":false,"zero":false},"axis":null}}},
{"data":{"values":[{}]},"mark":{"type":"text","text":"/dy","align":"left","baseline":"middle","fontSize":20,"dx":4},"encoding":{"x":{"datum":51.8,"type":"quantitative","scale":{"type":"log","domain":[0.5,4000],"nice":false},"axis":null},"y":{"datum":-0.26,"type":"quantitative","scale":{"domain":[0,1.4],"nice":false,"zero":false},"axis":null}}}
]}
]
}
